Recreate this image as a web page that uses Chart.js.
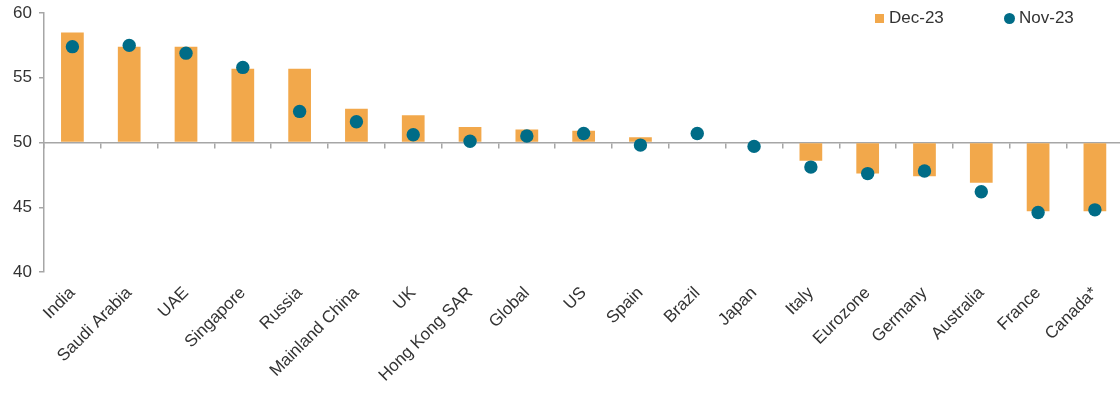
<!DOCTYPE html>
<html>
<head>
<meta charset="utf-8">
<script src="https://cdn.jsdelivr.net/npm/chart.js@4.4.1/dist/chart.umd.min.js"></script>
<style>
  html, body { margin: 0; padding: 0; background: #fff; overflow: hidden; }
  #wrap { position: relative; width: 1130px; height: 394px; }
  #legend { position: absolute; top: 8px; left: 875px; font: 17px "Liberation Sans", Arial, sans-serif; color: #333; white-space: nowrap; }
  #legend span.item { position: absolute; top: 0; display: flex; align-items: center; height: 20px; }
  #legend .sw { display: inline-block; width: 9px; height: 9px; margin-right: 5px; }
</style>
</head>
<body>
<div id="wrap">
  <canvas id="c" width="1130" height="394"></canvas>
  <div id="legend">
    <span class="item" style="left:0"><i class="sw" style="background:#F2A84B"></i>Dec-23</span>
    <span class="item" style="left:129px"><i class="sw" style="background:#006C87;border-radius:50%;width:11px;height:11px;margin-right:4px"></i>Nov-23</span>
  </div>
</div>
<script>
// Composite PMI readings by economy
const categories = ['India', 'Saudi Arabia', 'UAE', 'Singapore', 'Russia', 'Mainland China', 'UK',
  'Hong Kong SAR', 'Global', 'US', 'Spain', 'Brazil', 'Japan', 'Italy', 'Eurozone', 'Germany',
  'Australia', 'France', 'Canada*'];
const dec23 = [58.5, 57.4, 57.4, 55.7, 55.7, 52.6, 52.1, 51.2, 51.0, 50.9, 50.4, 50.0, 50.0, 48.6, 47.6, 47.4, 46.9, 44.7, 44.7];
const nov23 = [57.4, 57.5, 56.9, 55.8, 52.4, 51.6, 50.6, 50.1, 50.5, 50.7, 49.8, 50.7, 49.7, 48.1, 47.6, 47.8, 46.2, 44.6, 44.8];
const yTicks = [40, 45, 50, 55, 60];
const BASELINE = 50; // expansion / contraction threshold

const AXIS_GREY = '#A6A6A6';
const TEXT = '#333333';
const FONT = { family: '"Liberation Sans", Arial, sans-serif', size: 17 };

new Chart(document.getElementById('c'), {
  type: 'bar',
  data: {
    labels: categories,
    datasets: [
      {
        label: 'Dec-23',
        data: dec23,
        base: BASELINE,
        backgroundColor: '#F2A84B',
        borderWidth: 0,
        barPercentage: 0.4,
        categoryPercentage: 1,
        order: 2
      },
      {
        label: 'Nov-23',
        type: 'line',
        data: nov23,
        showLine: false,
        pointRadius: 6.7,
        pointStyle: 'circle',
        pointBackgroundColor: '#006C87',
        pointBorderWidth: 0,
        order: 1
      }
    ]
  },
  options: {
    responsive: false,
    animation: false,
    layout: { padding: { top: 13, right: 3, left: 0, bottom: 0 } },
    plugins: { legend: { display: false }, tooltip: { enabled: false } },
    scales: {
      x: {
        type: 'category',
        position: 'bottom',
        offset: true,
        grid: { display: false },
        border: { display: false },
        ticks: {
          autoSkip: false,
          maxRotation: 45,
          minRotation: 45,
          padding: 3,
          color: TEXT,
          font: FONT
        },
        afterFit: s => { s.height = 122; }
      },
      xBase: {
        type: 'category',
        position: { y: BASELINE },
        offset: true,
        grid: { offset: true, drawOnChartArea: false, drawTicks: true, tickLength: 5, color: AXIS_GREY, lineWidth: 1.5 },
        border: { color: AXIS_GREY, width: 1.5 },
        ticks: { display: false },
        afterFit: s => { s.height = 0; }
      },
      y: {
        min: 40,
        max: 60,
        afterBuildTicks: s => { s.ticks = yTicks.map(v => ({ value: v })); },
        grid: { drawOnChartArea: false, tickLength: 5, color: AXIS_GREY, lineWidth: 1.5 },
        border: { color: AXIS_GREY, width: 1.5 },
        ticks: { padding: 7, color: TEXT, font: FONT },
        afterFit: s => { s.width = 44; s.paddingTop = 0; s.paddingBottom = 0; }
      }
    }
  }
});
</script>
</body>
</html>
